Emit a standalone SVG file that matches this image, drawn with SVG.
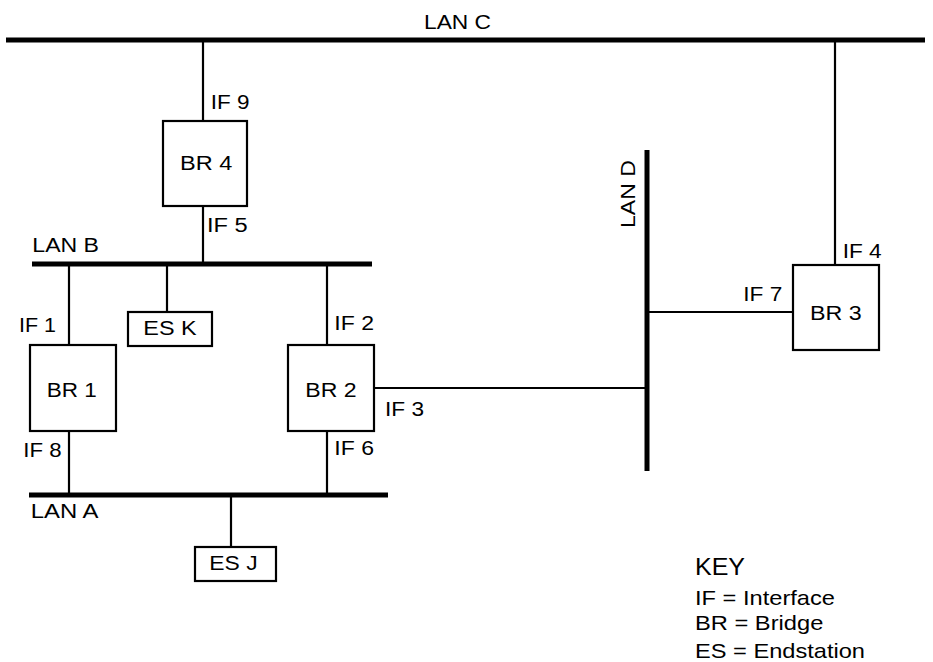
<svg xmlns="http://www.w3.org/2000/svg" width="933" height="662" viewBox="0 0 933 662">
<style>
text{font-family:"Liberation Sans",Arial,sans-serif;font-size:19.5px;fill:#000}
.lan{stroke:#000;stroke-width:5;fill:none}
.box{stroke:#000;stroke-width:2.2;fill:#fff}
.wire{stroke:#000;stroke-width:2.2;fill:none}
.key{font-size:21px}
</style>
<rect width="933" height="662" fill="#fff"/>
<g id="connectors">
<line class="wire" x1="203" y1="40" x2="203" y2="121"/>
<line class="wire" x1="203" y1="206" x2="203" y2="264"/>
<line class="wire" x1="69" y1="264" x2="69" y2="345"/>
<line class="wire" x1="167" y1="264" x2="167" y2="312"/>
<line class="wire" x1="327" y1="264" x2="327" y2="345"/>
<line class="wire" x1="69" y1="431" x2="69" y2="495"/>
<line class="wire" x1="327" y1="431" x2="327" y2="495"/>
<line class="wire" x1="231" y1="495" x2="231" y2="547"/>
<line class="wire" x1="374" y1="388" x2="645" y2="388"/>
<line class="wire" x1="647" y1="312" x2="793" y2="312"/>
<line class="wire" x1="835" y1="40" x2="835" y2="265"/>
<text x="210.7" y="109.3" textLength="38.7" lengthAdjust="spacingAndGlyphs">IF 9</text>
<text x="207" y="231.7" textLength="40.7" lengthAdjust="spacingAndGlyphs">IF 5</text>
<text x="19" y="332.3" textLength="37" lengthAdjust="spacingAndGlyphs">IF 1</text>
<text x="334.3" y="330" textLength="39.7" lengthAdjust="spacingAndGlyphs">IF 2</text>
<text x="385" y="415.7" textLength="39" lengthAdjust="spacingAndGlyphs">IF 3</text>
<text x="23.3" y="457.3" textLength="38.3" lengthAdjust="spacingAndGlyphs">IF 8</text>
<text x="334.3" y="455" textLength="39.7" lengthAdjust="spacingAndGlyphs">IF 6</text>
<text x="842.7" y="258.3" textLength="39" lengthAdjust="spacingAndGlyphs">IF 4</text>
<text x="743.3" y="300.7" textLength="39" lengthAdjust="spacingAndGlyphs">IF 7</text>
</g>
<g id="lan-c">
<line class="lan" x1="6" y1="40" x2="925" y2="40"/>
<text x="424" y="29" textLength="67" lengthAdjust="spacingAndGlyphs">LAN C</text>
</g>
<g id="lan-b">
<line class="lan" x1="32" y1="264" x2="372" y2="264"/>
<text x="32.3" y="252.3" textLength="66.7" lengthAdjust="spacingAndGlyphs">LAN B</text>
</g>
<g id="lan-a">
<line class="lan" x1="29" y1="495" x2="388" y2="495"/>
<text x="30.7" y="518.3" textLength="67.7" lengthAdjust="spacingAndGlyphs">LAN A</text>
</g>
<g id="lan-d">
<line class="lan" x1="647" y1="150" x2="647" y2="471"/>
<text x="635" y="228" transform="rotate(-90 635 228)" textLength="68" lengthAdjust="spacingAndGlyphs">LAN D</text>
</g>
<g id="br4">
<rect class="box" x="163" y="121" width="84" height="85"/>
<text x="180" y="170" textLength="52.3" lengthAdjust="spacingAndGlyphs">BR 4</text>
</g>
<g id="esk">
<rect class="box" x="128" y="312" width="84" height="34"/>
<text x="143.3" y="335" textLength="53.3" lengthAdjust="spacingAndGlyphs">ES K</text>
</g>
<g id="br1">
<rect class="box" x="30" y="345" width="86" height="86"/>
<text x="46.7" y="396.7" textLength="50" lengthAdjust="spacingAndGlyphs">BR 1</text>
</g>
<g id="br2">
<rect class="box" x="288" y="345" width="86" height="86"/>
<text x="305.3" y="396.7" textLength="51.3" lengthAdjust="spacingAndGlyphs">BR 2</text>
</g>
<g id="br3">
<rect class="box" x="793" y="265" width="86" height="85"/>
<text x="810" y="320" textLength="51.7" lengthAdjust="spacingAndGlyphs">BR 3</text>
</g>
<g id="esj">
<rect class="box" x="195" y="547" width="81" height="34"/>
<text x="209.3" y="570" textLength="48.3" lengthAdjust="spacingAndGlyphs">ES J</text>
</g>
<g id="key">
<text x="695" y="575" style="font-size:23.5px" textLength="50" lengthAdjust="spacingAndGlyphs">KEY</text>
<text class="key" x="695" y="605" textLength="140" lengthAdjust="spacingAndGlyphs">IF = Interface</text>
<text class="key" x="695" y="630" textLength="128.3" lengthAdjust="spacingAndGlyphs">BR = Bridge</text>
<text class="key" x="695" y="658" textLength="170" lengthAdjust="spacingAndGlyphs">ES = Endstation</text>
</g>
</svg>
